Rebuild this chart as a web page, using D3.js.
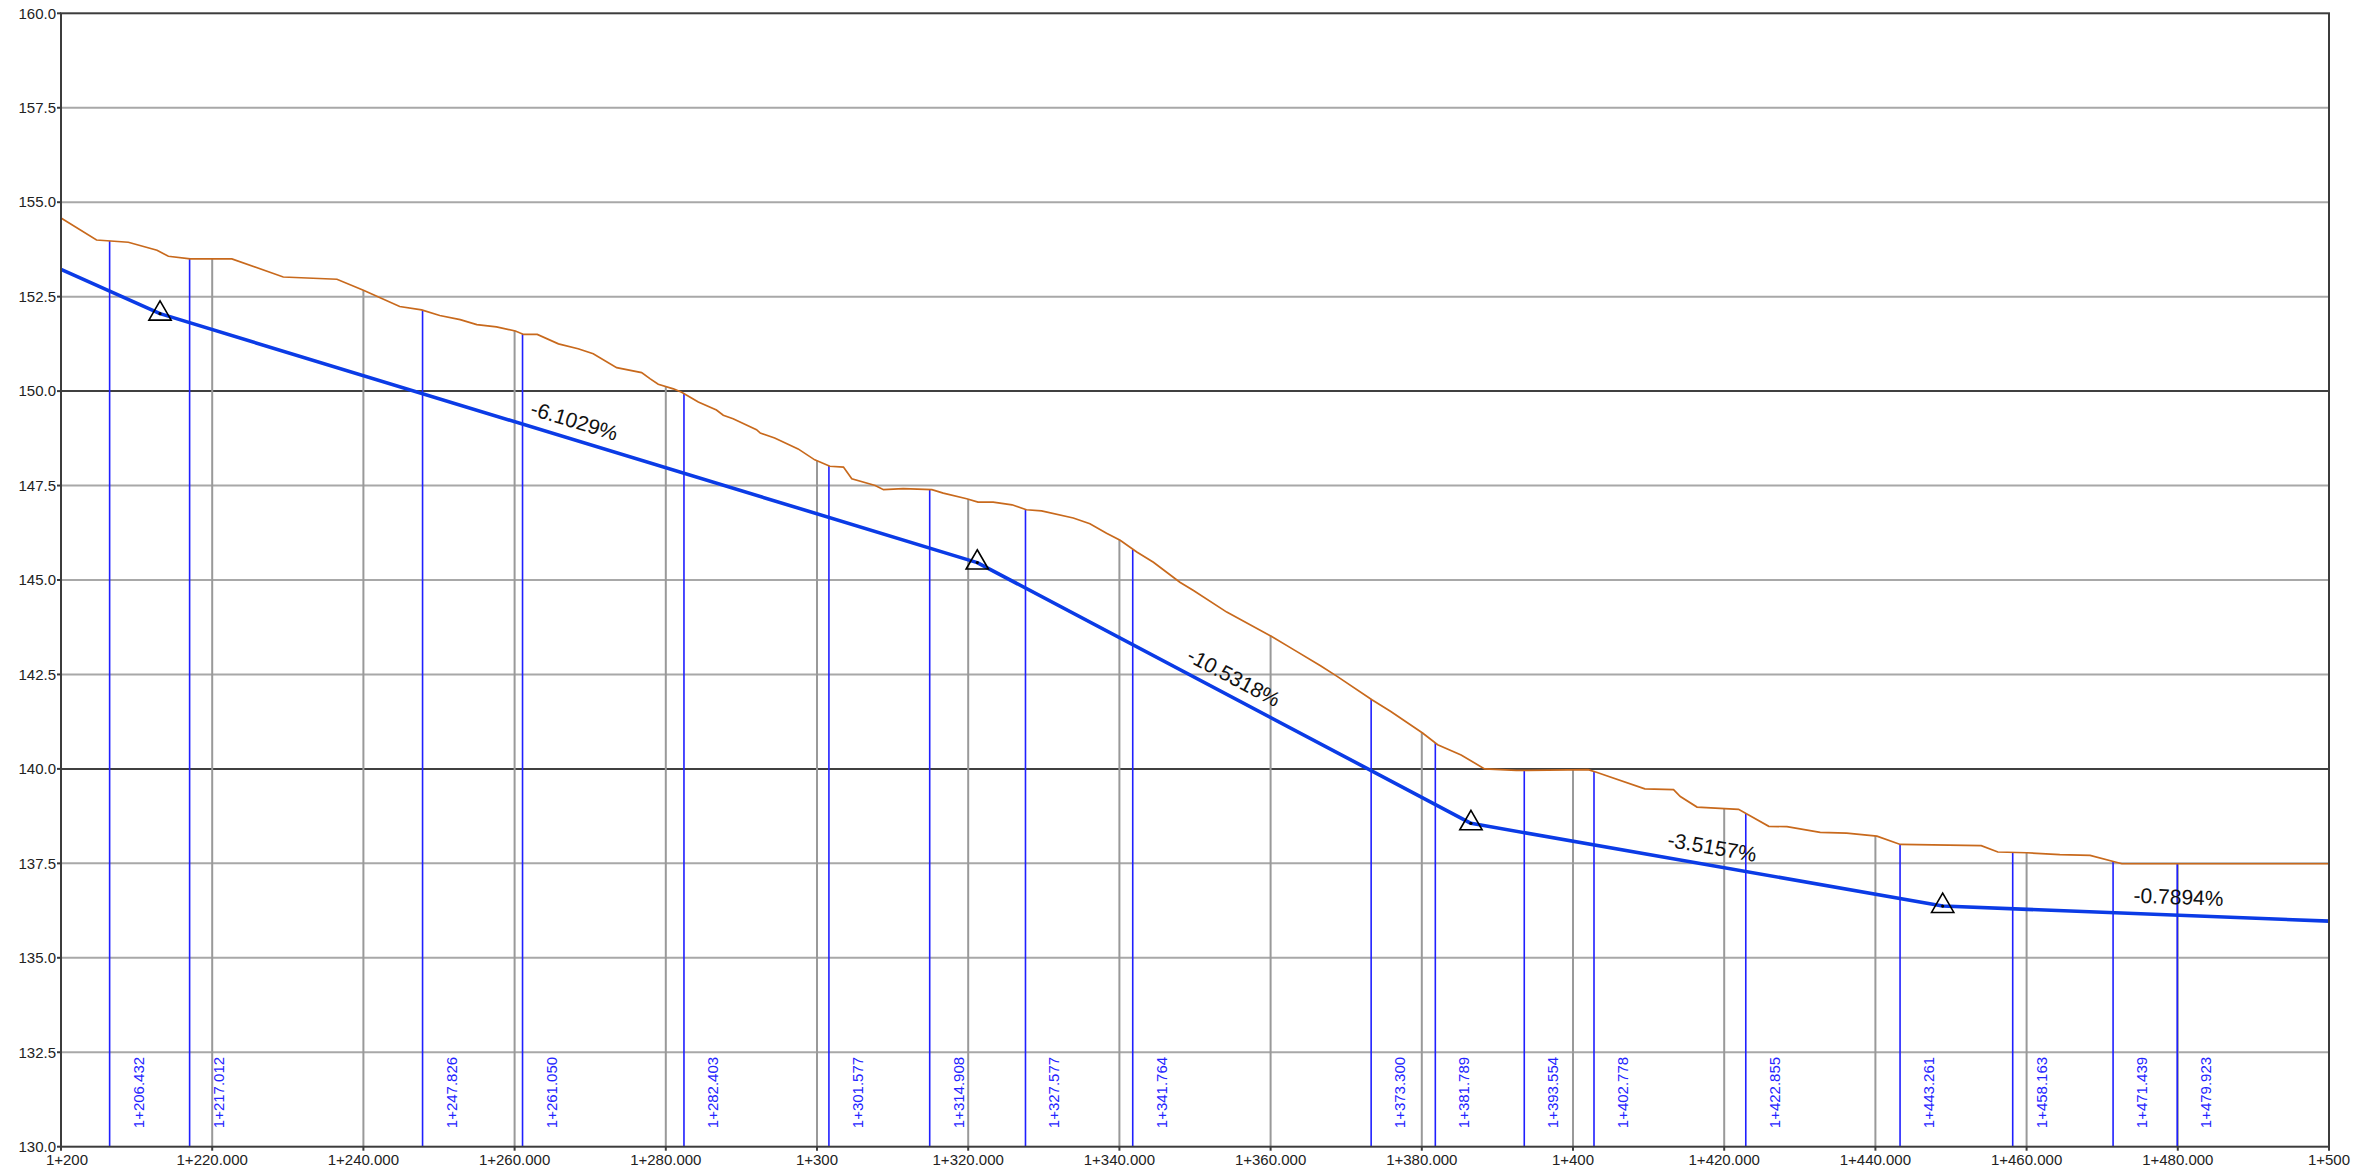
<!DOCTYPE html>
<html>
<head>
<meta charset="utf-8">
<script src="https://cdn.jsdelivr.net/npm/d3@7"></script>
<style>
  html, body { margin: 0; padding: 0; background: #fff; }
  svg { display: block; }
  text { font-family: "Liberation Sans", Arial, sans-serif; }
</style>
</head>
<body>
<svg id="chart" width="2374" height="1175"></svg>
<script>
// ---------- data ----------
const xTicks = [1200, 1220, 1240, 1260, 1280, 1300, 1320, 1340, 1360, 1380, 1400, 1420, 1440, 1460, 1480, 1500];
const xTickLabels = ["1+200", "1+220.000", "1+240.000", "1+260.000", "1+280.000", "1+300", "1+320.000", "1+340.000",
  "1+360.000", "1+380.000", "1+400", "1+420.000", "1+440.000", "1+460.000", "1+480.000", "1+500"];
const yTicks = [130, 132.5, 135, 137.5, 140, 142.5, 145, 147.5, 150, 152.5, 155, 157.5, 160];
const yTickLabels = ["130.0", "132.5", "135.0", "137.5", "140.0", "142.5", "145.0", "147.5", "150.0", "152.5", "155.0", "157.5", "160.0"];
const yMajor = [140, 150];

// existing ground profile
const groundSta = [1200, 1204.7, 1208.9, 1212.7, 1214.2, 1217.1, 1222.6, 1229.4, 1236.5, 1240.0, 1244.8, 1247.7, 1250.1,
  1252.8, 1255.0, 1257.6, 1260.1, 1261.2, 1263.0, 1265.8, 1268.4, 1270.4, 1273.5, 1276.8, 1277.9, 1279.0, 1281.0,
  1282.1, 1284.3, 1286.7, 1287.6, 1288.9, 1292.0, 1292.5, 1294.4, 1297.5, 1299.7, 1301.7, 1303.5, 1304.6, 1307.7,
  1308.8, 1311.4, 1315.2, 1316.7, 1319.8, 1321.3, 1323.3, 1325.8, 1327.7, 1329.7, 1333.9, 1336.1, 1338.3, 1340.1,
  1342.3, 1344.5, 1348.0, 1349.8, 1354.2, 1360.2, 1363.1, 1366.6, 1368.8, 1373.4, 1375.9, 1380.1, 1382.1, 1385.2,
  1388.3, 1392.5, 1394.0, 1402.0, 1403.1, 1409.5, 1413.3, 1414.2, 1416.4, 1421.9, 1425.9, 1428.3, 1432.7, 1436.2,
  1440.2, 1443.3, 1454.0, 1456.2, 1460.0, 1464.4, 1468.4, 1472.6, 1500.0];
const groundElev = [154.58, 154.00, 153.94, 153.73, 153.57, 153.50, 153.50, 153.02, 152.96, 152.67, 152.24, 152.15, 152.00,
  151.89, 151.76, 151.70, 151.59, 151.50, 151.50, 151.25, 151.12, 150.99, 150.62, 150.49, 150.33, 150.18, 150.06,
  149.97, 149.71, 149.50, 149.36, 149.27, 148.98, 148.89, 148.76, 148.47, 148.18, 148.01, 147.99, 147.68, 147.50,
  147.39, 147.42, 147.39, 147.30, 147.15, 147.06, 147.06, 146.99, 146.86, 146.83, 146.64, 146.49, 146.24, 146.05,
  145.74, 145.47, 144.94, 144.72, 144.15, 143.50, 143.15, 142.73, 142.45, 141.83, 141.52, 140.95, 140.64, 140.37,
  140.00, 139.96, 139.96, 139.98, 139.91, 139.47, 139.45, 139.27, 138.99, 138.93, 138.48, 138.47, 138.32, 138.30,
  138.22, 138.00, 137.97, 137.80, 137.78, 137.73, 137.71, 137.49, 137.49];

// design grade line (PVIs)
const pviSta = [1200, 1213.1, 1321.2, 1386.5, 1448.9, 1500];
const pviElev = [153.22, 152.05, 145.46, 138.56, 136.37, 135.97];
const pviMarked = [false, true, true, true, true, false];

// grade labels
const gradeLabels = ["-6.1029%", "-10.5318%", "-3.5157%", "-0.7894%"];
const gradeLabelSta = [1267.2, 1354.0, 1418.0, 1480.0];

// sample stations (blue)
const sampleSta = [1206.432, 1217.012, 1247.826, 1261.050, 1282.403, 1301.577, 1314.908, 1327.577, 1341.764,
  1373.300, 1381.789, 1393.554, 1402.778, 1422.855, 1443.261, 1458.163, 1471.439, 1479.923];
const sampleLabels = ["1+206.432", "1+217.012", "1+247.826", "1+261.050", "1+282.403", "1+301.577", "1+314.908",
  "1+327.577", "1+341.764", "1+373.300", "1+381.789", "1+393.554", "1+402.778", "1+422.855", "1+443.261",
  "1+458.163", "1+471.439", "1+479.923"];

// regular stations (gray)
const regularSta = [1220, 1240, 1260, 1280, 1300, 1320, 1340, 1360, 1380, 1400, 1420, 1440, 1460, 1480];

// ---------- chart ----------
const svg = d3.select("#chart");
const L = 61, R = 2329, T = 13.3, B = 1146.7;
const x = d3.scaleLinear().domain([1200, 1500]).range([L, R]);
const y = d3.scaleLinear().domain([130, 160]).range([B, T]);

const ground = groundSta.map((s, i) => ({ s, e: groundElev[i] }));
const groundAt = d3.scaleLinear().domain(groundSta).range(groundElev);
const design = pviSta.map((s, i) => ({ s, e: pviElev[i], m: pviMarked[i] }));
const designAt = d3.scaleLinear().domain(pviSta).range(pviElev);

// horizontal grid
svg.append("g").selectAll("line").data(yTicks.filter(v => v > 130 && v < 160)).join("line")
  .attr("x1", L).attr("x2", R)
  .attr("y1", d => y(d)).attr("y2", d => y(d))
  .attr("stroke", d => yMajor.includes(d) ? "#404040" : "#a8a8a8")
  .attr("stroke-width", 2);

// gray vertical station lines
svg.append("g").selectAll("line").data(regularSta).join("line")
  .attr("x1", d => x(d)).attr("x2", d => x(d))
  .attr("y1", B).attr("y2", d => y(groundAt(d)))
  .attr("stroke", "#999").attr("stroke-width", 2);

// blue sample lines
svg.append("g").selectAll("line").data(sampleSta).join("line")
  .attr("x1", d => x(d)).attr("x2", d => x(d))
  .attr("y1", B).attr("y2", d => y(groundAt(d)))
  .attr("stroke", "#1f1fff").attr("stroke-width", 1.6);

// blue sample labels
svg.append("g").selectAll("text").data(sampleSta).join("text")
  .attr("transform", d => `translate(${x(d) + 34},${B - 18.5}) rotate(-90)`)
  .attr("font-size", 15)
  .attr("fill", "#2424ff")
  .text((d, i) => sampleLabels[i]);

// ground line
svg.append("path").datum(ground)
  .attr("d", d3.line().x(d => x(d.s)).y(d => y(d.e)))
  .attr("fill", "none").attr("stroke", "#c8691c").attr("stroke-width", 1.7);

// design line
svg.append("path").datum(design)
  .attr("d", d3.line().x(d => x(d.s)).y(d => y(d.e)))
  .attr("fill", "none").attr("stroke", "#0b3be6").attr("stroke-width", 3.6)
  .attr("stroke-linejoin", "round");

// PVI triangles
const pv = svg.append("g").selectAll("g").data(design.filter(d => d.m)).join("g")
  .attr("transform", d => `translate(${x(d.s)},${y(d.e)})`);
pv.append("path").attr("d", d3.symbol(d3.symbolTriangle, 215)())
  .attr("fill", "none").attr("stroke", "#000").attr("stroke-width", 1.6);
pv.append("circle").attr("r", 1.6).attr("fill", "#000");

// grade labels
svg.append("g").selectAll("text").data(gradeLabelSta).join("text")
  .attr("transform", (d, i) => {
    const s0 = pviSta[i + 1], s1 = pviSta[i + 2];
    const ang = Math.atan2(y(designAt(s1)) - y(designAt(s0)), x(s1) - x(s0)) * 180 / Math.PI;
    return `translate(${x(d)},${y(designAt(d))}) rotate(${ang})`;
  })
  .attr("y", -11)
  .attr("text-anchor", "middle")
  .attr("font-size", 21)
  .attr("fill", "#111")
  .text((d, i) => gradeLabels[i]);

// frame
svg.append("rect").attr("x", L).attr("y", T).attr("width", R - L).attr("height", B - T)
  .attr("fill", "none").attr("stroke", "#3c3c3c").attr("stroke-width", 2);

// y axis
const yAxis = svg.append("g");
yAxis.selectAll("line").data(yTicks).join("line")
  .attr("x1", L - 4).attr("x2", L).attr("y1", d => y(d)).attr("y2", d => y(d))
  .attr("stroke", "#3c3c3c").attr("stroke-width", 2);
yAxis.selectAll("text").data(yTicks).join("text")
  .attr("x", L - 5).attr("y", d => y(d)).attr("dy", "0.35em")
  .attr("text-anchor", "end").attr("font-size", 15).attr("fill", "#222")
  .text((d, i) => yTickLabels[i]);

// x axis
const xAxis = svg.append("g");
xAxis.selectAll("line").data(xTicks).join("line")
  .attr("x1", d => x(d)).attr("x2", d => x(d)).attr("y1", B).attr("y2", B + 4)
  .attr("stroke", "#3c3c3c").attr("stroke-width", 2);
xAxis.selectAll("text").data(xTicks).join("text")
  .attr("x", (d, i) => x(d) + (i === 0 ? 6 : 0)).attr("y", B + 18.5)
  .attr("text-anchor", "middle").attr("font-size", 15).attr("fill", "#222")
  .text((d, i) => xTickLabels[i]);
</script>
</body>
</html>
